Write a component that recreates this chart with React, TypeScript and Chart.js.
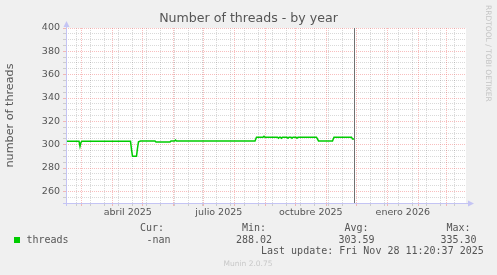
import { useEffect, useRef } from 'react';
import { Chart, registerables } from 'chart.js';

Chart.register(...registerables);

// ---- data (x = days since 2025-01-01) ----
const chartTitle = 'Number of threads - by year';
const yAxisTitle = 'number of threads';
const seriesName = 'threads';
const days = [43.7, 56.7, 57.7, 58.7, 59.7, 108.2, 109.2, 110.2, 114.2, 115.2, 116.2, 118.2, 132.7, 133.7, 147.7, 148.7, 152.2, 153.2, 154.2, 232.7, 234.2, 240.7, 241.7, 242.7, 255.2, 256.2, 257.2, 258.2, 259.2, 260.2, 264.7, 265.7, 266.7, 268.7, 269.7, 270.7, 273.7, 274.7, 275.7, 294.2, 296.2, 310.2, 311.7, 329.2, 330.2, 331.7];
const threads = [303, 303, 298.5, 302, 303, 303, 296, 290, 290, 297, 302.5, 303.2, 303.2, 302.3, 302.3, 303.2, 303.2, 304, 303.2, 303.2, 306.4, 306.4, 307.2, 306.4, 306.4, 305.6, 306.4, 306.4, 305.6, 306.4, 306.4, 305.6, 306.4, 306.4, 305.6, 306.4, 306.4, 305.6, 306.4, 306.4, 303.2, 303.2, 306.4, 306.4, 304.8, 304.8];
const monthStartDays = [59, 90, 120, 151, 181, 212, 243, 273, 304, 334, 365, 396, 424];
const minorGridDays = [54, 68, 82, 96, 110, 124, 138, 152, 166, 180, 194, 208, 222, 236, 250, 264, 278, 292, 306, 320, 334, 348, 362, 376, 390, 404, 418, 432];
const xLabelDays = [105.5, 196.5, 288.5, 380.5];
const xLabels = ['abril 2025', 'julio 2025', 'octubre 2025', 'enero 2026'];
const yTickValues = [250, 255, 260, 265, 270, 275, 280, 285, 290, 295, 300, 305, 310, 315, 320, 325, 330, 335, 340, 345, 350, 355, 360, 365, 370, 375, 380, 385, 390, 395, 400];
const yLabelStep = 20;
const xMin = 43.7;
const xMax = 443.7;
const yMin = 250;
const yMax = 400;
const nowDay = 331.6;
const legendHeaders = ['Cur:', 'Min:', 'Avg:', 'Max:'];
const legendValues = ['-nan', '288.02', '303.59', '335.30'];
const lastUpdate = 'Last update: Fri Nov 28 11:20:37 2025';
const footerText = 'Munin 2.0.75';
const watermark = 'RRDTOOL / TOBI OETIKER';

const RED = 'rgba(240, 110, 110, 0.45)';
const GRAY = 'rgba(0, 0, 0, 0.15)';
const TEXT = '#555555';
const AXIS = '#c4c4f4';
const SANS = '"DejaVu Sans", sans-serif';
const MONO = '"DejaVu Sans Mono", monospace';

const isMonth = (v: number | undefined) => v !== undefined && monthStartDays.includes(v);
const isMajorY = (v: number | undefined) => v !== undefined && v % yLabelStep === 0;

const decorPlugin = {
  id: 'decor',
  beforeDraw(chart: any) {
    const { ctx, width, height, chartArea: a } = chart;
    ctx.save();
    ctx.fillStyle = '#f0f0f0';
    ctx.fillRect(0, 0, width, height);
    ctx.fillStyle = '#ffffff';
    ctx.fillRect(a.left, a.top, a.right - a.left, a.bottom - a.top);
    ctx.restore();
  },
  afterDraw(chart: any) {
    const { ctx, chartArea: a, scales } = chart;
    ctx.save();
    // now line
    const nx = Math.round(scales.x.getPixelForValue(nowDay)) + 0.5;
    ctx.strokeStyle = '#707070';
    ctx.lineWidth = 1;
    ctx.beginPath();
    ctx.moveTo(nx, a.top);
    ctx.lineTo(nx, a.bottom);
    ctx.stroke();
    // axes
    ctx.strokeStyle = AXIS;
    ctx.beginPath();
    ctx.moveTo(a.left + 0.5, a.bottom + 3);
    ctx.lineTo(a.left + 0.5, a.top - 3);
    ctx.moveTo(a.left - 3, a.bottom + 0.5);
    ctx.lineTo(a.right + 3, a.bottom + 0.5);
    ctx.stroke();
    ctx.fillStyle = AXIS;
    ctx.beginPath();
    ctx.moveTo(a.left - 2.5, a.top - 1);
    ctx.lineTo(a.left + 3.5, a.top - 1);
    ctx.lineTo(a.left + 0.5, a.top - 7);
    ctx.closePath();
    ctx.fill();
    ctx.beginPath();
    ctx.moveTo(a.right + 2, a.bottom - 2.5);
    ctx.lineTo(a.right + 2, a.bottom + 3.5);
    ctx.lineTo(a.right + 8, a.bottom + 0.5);
    ctx.closePath();
    ctx.fill();

    // title
    ctx.fillStyle = TEXT;
    ctx.textBaseline = 'middle';
    ctx.textAlign = 'center';
    ctx.font = `12.6px ${SANS}`;
    ctx.fillText(chartTitle, 248.5, 19);
    // y title
    ctx.save();
    ctx.translate(10.5, (a.top + a.bottom) / 2);
    ctx.rotate(-Math.PI / 2);
    ctx.font = `11.2px ${SANS}`;
    ctx.fillText(yAxisTitle, 0, 0);
    ctx.restore();
    // watermark
    ctx.save();
    ctx.translate(488.3, 5);
    ctx.rotate(Math.PI / 2);
    ctx.textAlign = 'left';
    ctx.fillStyle = '#c4c4c4';
    ctx.font = `7.5px ${SANS}`;
    ctx.fillText(watermark, 0, 0);
    ctx.restore();
    // footer
    ctx.fillStyle = '#c8c8c8';
    ctx.font = `7.5px ${SANS}`;
    ctx.textAlign = 'center';
    ctx.fillText(footerText, 248, 264.5);

    // legend
    ctx.fillStyle = '#00cc00';
    ctx.fillRect(14, 237, 6, 6);
    ctx.fillStyle = TEXT;
    ctx.font = `10px ${MONO}`;
    ctx.textAlign = 'left';
    ctx.fillText(seriesName, 26.5, 240);
    const headX = [140, 242, 344.5, 446.5];
    const valX = [146.5, 236, 338.5, 440.5];
    legendHeaders.forEach((h, i) => ctx.fillText(h, headX[i], 228));
    legendValues.forEach((v, i) => ctx.fillText(v, valX[i], 240));
    ctx.fillText(lastUpdate, 261, 251.5);
    ctx.restore();
  },
};

export default function App() {
  const ref = useRef<HTMLCanvasElement | null>(null);
  useEffect(() => {
    const canvas = ref.current;
    if (!canvas) return;
    const chart = new Chart(canvas, {
      type: 'line',
      data: {
        datasets: [
          {
            label: seriesName,
            data: days.map((d, i) => ({ x: d, y: threads[i] })),
            borderColor: '#00cc00',
            borderWidth: 1.5,
            pointRadius: 0,
            tension: 0,
            fill: false,
            xAxisID: 'x',
            yAxisID: 'y',
          },
        ],
      },
      options: {
        responsive: false,
        animation: false,
        devicePixelRatio: 1,
        layout: { padding: { top: 28, right: 31, bottom: 0, left: 0 } },
        plugins: { legend: { display: false }, tooltip: { enabled: false }, title: { display: false } },
        scales: {
          x: {
            type: 'linear',
            position: 'bottom',
            weight: 0,
            min: xMin,
            max: xMax,
            bounds: 'data',
            afterBuildTicks: (s: any) => {
              s.ticks = [...minorGridDays.filter((d) => !monthStartDays.includes(d)), ...monthStartDays]
                .filter((d) => d > xMin && d < xMax)
                .sort((p, q) => p - q)
                .map((v) => ({ value: v }));
            },
            afterFit: (s: any) => {
              s.height = 0;
            },
            ticks: { display: false, autoSkip: false },
            grid: {
              color: (c: any) => (isMonth(c.tick?.value) ? RED : GRAY),
              tickColor: (c: any) => (isMonth(c.tick?.value) ? RED : GRAY),
              lineWidth: 1,
              drawTicks: true,
              tickLength: 3,
            },
            border: { display: false, dash: [1, 1] },
          },
          xl: {
            type: 'linear',
            position: 'bottom',
            weight: 1,
            min: xMin,
            max: xMax,
            bounds: 'data',
            afterBuildTicks: (s: any) => {
              s.ticks = xLabelDays.map((v) => ({ value: v }));
            },
            afterFit: (s: any) => {
              s.height = 72;
            },
            ticks: {
              autoSkip: false,
              maxRotation: 0,
              padding: 4,
              color: TEXT,
              font: { family: SANS, size: 9.5 },
              callback: (v: any) => {
                const i = xLabelDays.indexOf(Number(v));
                return i >= 0 ? xLabels[i] : '';
              },
            },
            grid: { display: false, drawTicks: false },
            border: { display: false },
          },
          y: {
            type: 'linear',
            position: 'left',
            min: yMin,
            max: yMax,
            bounds: 'data',
            afterBuildTicks: (s: any) => {
              s.ticks = yTickValues.map((v) => ({ value: v }));
            },
            afterFit: (s: any) => {
              s.width = 66;
            },
            ticks: {
              autoSkip: false,
              padding: 3,
              color: TEXT,
              font: { family: SANS, size: 9.5 },
              callback: (v: any) => (Number(v) % yLabelStep === 0 && Number(v) > yMin ? String(v) : ''),
            },
            grid: {
              color: (c: any) => (isMajorY(c.tick?.value) ? RED : GRAY),
              tickColor: (c: any) => (isMajorY(c.tick?.value) ? RED : GRAY),
              lineWidth: 1,
              drawTicks: true,
              tickLength: 3,
            },
            border: { display: false, dash: [1, 1] },
          },
        },
      },
      plugins: [decorPlugin],
    } as any);
    return () => chart.destroy();
  }, []);
  return (
    <div style={{ position: 'absolute', left: 0, top: 0, width: 497, height: 275 }}>
      <canvas ref={ref} width={497} height={275} style={{ display: 'block', width: 497, height: 275 }} />
    </div>
  );
}
